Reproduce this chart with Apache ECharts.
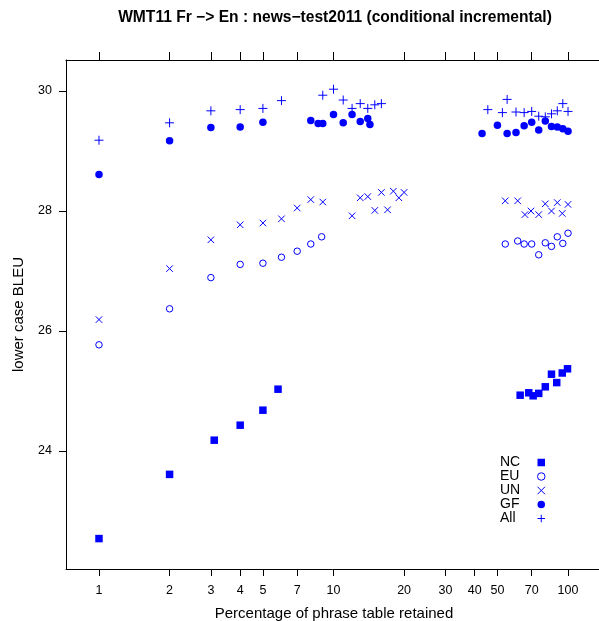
<!DOCTYPE html>
<html>
<head>
<meta charset="utf-8">
<script src="https://cdn.jsdelivr.net/npm/echarts@6/dist/echarts.min.js"></script>
<style>html,body{margin:0;padding:0;background:#fff}#c{width:599px;height:621px}</style>
</head>
<body>
<div id="c"></div>
<script>
// ---- data (percentage of phrase table retained, lower case BLEU) ----
const xTicks = [1, 2, 3, 4, 5, 7, 10, 20, 30, 40, 50, 70, 100];
const yTicks = [24, 26, 28, 30];

const ncX = [1, 2, 3.1, 4, 5, 5.8, 62.5, 68, 71, 75, 80, 85, 89.5, 94.5, 99.5];
const ncY = [22.54, 23.61, 24.18, 24.43, 24.68, 25.03, 24.93, 24.97, 24.92, 24.96, 25.07, 25.28, 25.14, 25.30, 25.37];

const euX = [1, 2, 3, 4, 5, 6, 7, 8, 8.9, 54, 61, 65, 70, 75, 80, 85, 90, 95, 100];
const euY = [25.77, 26.37, 26.89, 27.11, 27.13, 27.23, 27.33, 27.45, 27.57, 27.45, 27.50, 27.45, 27.45, 27.27, 27.47, 27.41, 27.57, 27.46, 27.63];

const unX = [1, 2, 3, 4, 5, 6, 7, 8, 9, 12, 13, 14, 15, 16, 17, 18, 19, 20, 54, 61, 65.5, 69.5, 75, 80, 85, 90, 94.5, 100];
const unY = [26.19, 27.04, 27.52, 27.77, 27.80, 27.87, 28.05, 28.19, 28.15, 27.92, 28.22, 28.24, 28.01, 28.31, 28.02, 28.33, 28.22, 28.31, 28.17, 28.17, 27.94, 28.00, 27.94, 28.12, 28.00, 28.14, 27.96, 28.11];

const gfX = [1, 2, 3, 4, 5, 8, 8.6, 9, 10, 11, 12, 13, 14, 14.3, 43, 50, 55, 60, 65, 70, 75, 80, 85, 90, 95, 100];
const gfY = [28.61, 29.17, 29.39, 29.40, 29.48, 29.51, 29.46, 29.46, 29.61, 29.47, 29.61, 29.49, 29.54, 29.44, 29.29, 29.43, 29.29, 29.31, 29.42, 29.48, 29.35, 29.50, 29.41, 29.40, 29.37, 29.33];

const allX = [1, 2, 3, 4, 5, 6, 9, 10, 11, 12, 13, 14, 15, 16, 45.5, 52.5, 55, 60, 65, 70, 75, 80, 85, 90, 95, 100];
const allY = [29.18, 29.47, 29.67, 29.69, 29.71, 29.84, 29.93, 30.03, 29.85, 29.71, 29.79, 29.71, 29.77, 29.79, 29.69, 29.64, 29.86, 29.65, 29.64, 29.66, 29.58, 29.57, 29.62, 29.67, 29.79, 29.66];

const groupNames = ['NC', 'EU', 'UN', 'GF', 'All'];

// ---- chart ----
const FONT = '"Liberation Sans", Arial, Helvetica, sans-serif';
const BLUE = '#0000ff';
const pts = (xs, ys) => xs.map((x, i) => [x, ys[i]]);

const X_MIN = 0.7233, X_MAX = 139.6;
const Y_MIN = 22.033, Y_MAX = 30.517;

const chart = echarts.init(document.getElementById('c'), null, { renderer: 'canvas' });

const baseX = {
  type: 'log', logBase: 10, min: X_MIN, max: X_MAX,
  splitLine: { show: false }, minorTick: { show: false },
  axisLine: { show: true, lineStyle: { color: '#000', width: 1 } }
};

chart.setOption({
  animation: false,
  backgroundColor: '#fff',
  textStyle: { fontFamily: FONT },
  title: {
    text: 'WMT11 Fr \u2212> En : news\u2212test2011 (conditional incremental)',
    left: 330, top: 5, textAlign: 'center',
    textStyle: { fontFamily: FONT, fontSize: 15.6, fontWeight: 'bold', color: '#000' }
  },
  grid: { left: 66, right: -3, top: 60, bottom: 52, outerBoundsMode: 'none', containLabel: false },
  legend: {
    orient: 'vertical', left: 500, top: 455.5, align: 'right', padding: 0,
    itemWidth: 7.5, itemHeight: 7.5, itemGap: 0, selectedMode: false,
    data: [
      { name: 'NC' },
      { name: 'EU', itemStyle: { borderWidth: 1 } },
      { name: 'UN', itemStyle: { borderWidth: 1 } },
      { name: 'GF' },
      { name: 'All', itemStyle: { borderWidth: 1 } }
    ],
    formatter: n => '{a|' + n + '}',
    textStyle: {
      fontFamily: FONT, fontSize: 14, color: '#000',
      rich: { a: { width: 32.5, align: 'left', lineHeight: 14.3, fontSize: 14, fontFamily: FONT, color: '#000' } }
    }
  },
  xAxis: [
    Object.assign({}, baseX, {
      position: 'bottom',
      name: 'Percentage of phrase table retained',
      nameLocation: 'middle', nameGap: 37,
      nameTextStyle: { fontFamily: FONT, fontSize: 15, color: '#000' },
      axisTick: { show: true, inside: false, length: 7, customValues: xTicks, lineStyle: { color: '#000' } },
      axisLabel: { show: true, margin: 15, customValues: xTicks, fontFamily: FONT, fontSize: 12.5, color: '#000',
        formatter: v => String(Math.round(v)) }
    }),
    Object.assign({}, baseX, {
      position: 'top',
      axisTick: { show: true, inside: false, length: 8, customValues: xTicks, lineStyle: { color: '#000' } },
      axisLabel: { show: false, customValues: xTicks }
    })
  ],
  yAxis: {
    type: 'value', min: Y_MIN, max: Y_MAX,
    splitLine: { show: false },
    name: 'lower case BLEU', nameLocation: 'middle', nameGap: 40,
    nameTextStyle: { fontFamily: FONT, fontSize: 15, color: '#000' },
    axisLine: { show: true, lineStyle: { color: '#000', width: 1 } },
    axisTick: { show: true, inside: false, length: 7, customValues: yTicks, lineStyle: { color: '#000' } },
    axisLabel: { show: true, margin: 14, customValues: yTicks, fontFamily: FONT, fontSize: 12.5, color: '#000' }
  },
  series: [
    { name: groupNames[0], type: 'scatter', data: pts(ncX, ncY), symbol: 'rect', symbolSize: 7.5,
      itemStyle: { color: BLUE, opacity: 1 } },
    { name: groupNames[1], type: 'scatter', data: pts(euX, euY), symbol: 'circle', symbolSize: 6.5,
      itemStyle: { color: 'rgba(0,0,0,0)', borderColor: BLUE, borderWidth: 1, opacity: 1 } },
    { name: groupNames[2], type: 'scatter', data: pts(unX, unY), symbol: 'path://M0,0L10,10M10,0L0,10', symbolSize: 6.5,
      itemStyle: { color: 'rgba(0,0,0,0)', borderColor: BLUE, borderWidth: 1, opacity: 1 } },
    { name: groupNames[3], type: 'scatter', data: pts(gfX, gfY), symbol: 'circle', symbolSize: 7.5,
      itemStyle: { color: BLUE, opacity: 1 } },
    { name: groupNames[4], type: 'scatter', data: pts(allX, allY), symbol: 'path://M5,0L5,10M0,5L10,5', symbolSize: 9,
      itemStyle: { color: 'rgba(0,0,0,0)', borderColor: BLUE, borderWidth: 1, opacity: 1 } }
  ]
});
</script>
</body>
</html>
